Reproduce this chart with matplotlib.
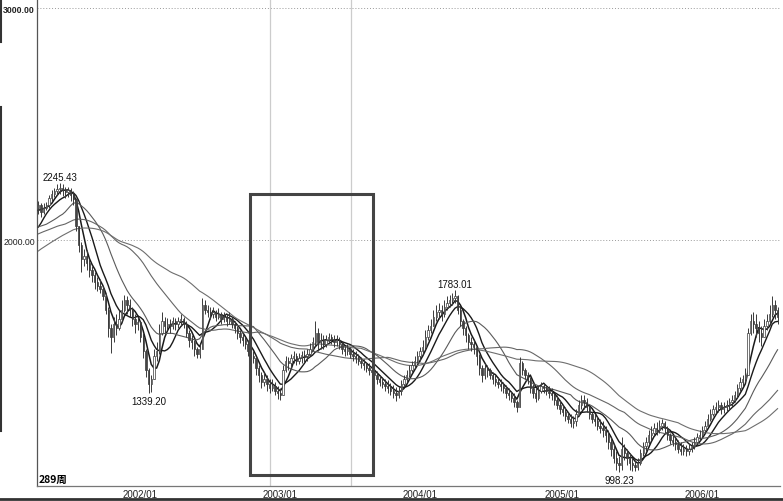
import matplotlib.pyplot as plt
import numpy as np
import pandas as pd
from matplotlib.patches import Rectangle

plt.rcParams['font.family'] = ['Liberation Sans', 'DejaVu Sans']

# weekly closes before the visible window (only used to warm up the moving averages)
pre_close = [1600, 1680, 1720, 1700, 1760, 1800, 1780, 1810, 1800, 1830, 1820, 1840, 1830,
             1850, 1860, 1840, 1880, 1900, 1890, 1910, 1920, 1950, 1980, 2000, 2010, 2020,
             2040, 2080, 2100, 2070, 2000, 1960, 1950, 1940, 1930, 1960, 1970, 1990,
             2020, 2040, 2050, 2060, 2070, 2050, 2060, 2073, 2070, 2060, 2080,
             2000, 1950, 1930, 1960, 2020, 2060, 2100, 2120, 2130, 2140]

# visible weeks, starting 2001-04-13
close = [2150, 2120, 2140, 2150, 2180, 2200, 2210, 2220, 2225, 2215,
         2205, 2215, 2195, 2175, 2060, 1980, 1920, 1930, 1900, 1870,
         1850, 1820, 1800, 1790, 1760, 1700, 1620, 1580, 1640, 1620,
         1660, 1700, 1740, 1720, 1700, 1660, 1640, 1646, 1580, 1520,
         1440, 1380, 1400, 1500, 1520, 1600, 1650, 1630, 1640, 1630,
         1650, 1640, 1650, 1660, 1640, 1600, 1570, 1560, 1530, 1510,
         1530, 1720, 1700, 1690, 1680, 1690, 1670, 1680, 1660, 1670,
         1650, 1660, 1640, 1620, 1600, 1580, 1570, 1550, 1520, 1500,
         1490, 1450, 1420, 1390, 1400, 1380, 1360, 1370, 1350, 1340,
         1330, 1440, 1480, 1470, 1490, 1500, 1480, 1490, 1505, 1500,
         1510, 1530, 1560, 1600, 1560, 1570, 1550, 1570, 1580, 1575,
         1560, 1570, 1550, 1530, 1520, 1530, 1510, 1500, 1490, 1480,
         1470, 1460, 1450, 1440, 1430, 1420, 1400, 1390, 1380, 1370,
         1360, 1350, 1340, 1330, 1350, 1380, 1400, 1420, 1440, 1460,
         1480, 1500, 1520, 1540, 1580, 1610, 1630, 1670, 1690, 1700,
         1680, 1710, 1730, 1740, 1750, 1760, 1700, 1650, 1620, 1590,
         1560, 1550, 1540, 1500, 1450, 1420, 1450, 1440, 1420, 1400,
         1390, 1380, 1370, 1360, 1340, 1330, 1320, 1300, 1280, 1470,
         1440, 1420, 1400, 1360, 1340, 1320, 1350, 1370, 1360, 1350,
         1340, 1330, 1310, 1290, 1270, 1260, 1240, 1230, 1210, 1220,
         1250, 1290, 1310, 1300, 1280, 1250, 1230, 1220, 1200, 1190,
         1180, 1160, 1130, 1100, 1060, 1040, 1030, 1100, 1080, 1060,
         1040, 1030, 1020, 1040, 1080, 1110, 1130, 1160, 1170, 1190,
         1180, 1200, 1210, 1190, 1160, 1140, 1130, 1120, 1100, 1090,
         1100, 1090, 1100, 1110, 1130, 1150, 1160, 1180, 1200, 1230,
         1250, 1270, 1280, 1290, 1270, 1280, 1290, 1300, 1310, 1330,
         1360, 1390, 1400, 1420, 1600, 1650, 1640, 1620, 1600, 1580,
         1630, 1650, 1680, 1720, 1700, 1670]

high = [2170, 2160, 2160, 2165, 2195, 2215, 2225, 2240, 2245.43, 2240,
        2230, 2230, 2225, 2210, 2180, 2060, 1990, 1960, 1955, 1920,
        1890, 1860, 1840, 1830, 1800, 1770, 1710, 1640, 1670, 1680,
        1700, 1740, 1765, 1760, 1745, 1710, 1680, 1670, 1650, 1600,
        1530, 1450, 1420, 1530, 1560, 1640, 1690, 1670, 1665, 1660,
        1670, 1665, 1670, 1680, 1670, 1650, 1610, 1590, 1570, 1540,
        1550, 1748, 1740, 1720, 1710, 1710, 1700, 1705, 1690, 1690,
        1680, 1690, 1670, 1650, 1630, 1610, 1600, 1580, 1570, 1530,
        1520, 1490, 1460, 1430, 1430, 1420, 1400, 1400, 1390, 1370,
        1360, 1460, 1500, 1495, 1510, 1520, 1515, 1515, 1520, 1525,
        1530, 1555, 1580, 1649.6, 1620, 1600, 1590, 1590, 1600, 1595,
        1590, 1590, 1580, 1560, 1545, 1550, 1540, 1530, 1520, 1510,
        1495, 1485, 1475, 1470, 1460, 1445, 1435, 1420, 1410, 1400,
        1395, 1385, 1375, 1365, 1370, 1395, 1420, 1440, 1460, 1480,
        1500, 1520, 1540, 1570, 1610, 1635, 1660, 1700, 1720, 1730,
        1720, 1740, 1760, 1765, 1770, 1783.01, 1765, 1710, 1660, 1630,
        1600, 1580, 1570, 1540, 1510, 1460, 1470, 1460, 1450, 1430,
        1420, 1410, 1400, 1390, 1375, 1360, 1350, 1340, 1310, 1496,
        1480, 1450, 1430, 1410, 1380, 1360, 1370, 1390, 1385, 1375,
        1370, 1360, 1340, 1330, 1310, 1290, 1280, 1260, 1250, 1240,
        1270, 1310, 1330, 1330, 1320, 1290, 1260, 1250, 1240, 1230,
        1220, 1200, 1180, 1150, 1120, 1090, 1070, 1150, 1120, 1100,
        1080, 1060, 1050, 1060, 1100, 1130, 1150, 1180, 1200, 1210,
        1215, 1225, 1230, 1220, 1200, 1170, 1160, 1150, 1140, 1130,
        1120, 1115, 1120, 1130, 1150, 1170, 1180, 1200, 1220, 1250,
        1270, 1290, 1300, 1310, 1300, 1300, 1310, 1320, 1330, 1350,
        1380, 1410, 1420, 1450, 1620, 1680, 1690, 1680, 1650, 1630,
        1660, 1680, 1720, 1757, 1740, 1710]

low = [2110, 2100, 2110, 2130, 2140, 2170, 2185, 2195, 2200, 2190,
       2180, 2185, 2170, 2150, 2040, 1950, 1860, 1890, 1870, 1840,
       1820, 1790, 1780, 1770, 1740, 1680, 1580, 1514, 1560, 1590,
       1610, 1650, 1690, 1680, 1670, 1630, 1600, 1610, 1560, 1490,
       1410, 1339.2, 1345, 1400, 1480, 1510, 1590, 1600, 1610, 1600,
       1615, 1610, 1620, 1630, 1620, 1580, 1540, 1530, 1500, 1490,
       1490, 1530, 1680, 1670, 1660, 1665, 1650, 1660, 1640, 1645,
       1630, 1640, 1620, 1600, 1575, 1555, 1545, 1530, 1500, 1480,
       1470, 1420, 1390, 1360, 1370, 1350, 1340, 1350, 1330, 1315,
       1311.7, 1330, 1430, 1440, 1450, 1470, 1460, 1465, 1470, 1475,
       1480, 1500, 1520, 1545, 1520, 1530, 1530, 1540, 1555, 1550,
       1540, 1545, 1530, 1510, 1500, 1505, 1490, 1480, 1470, 1460,
       1450, 1440, 1430, 1420, 1410, 1390, 1380, 1370, 1360, 1350,
       1340, 1330, 1320, 1307.4, 1320, 1330, 1370, 1390, 1410, 1430,
       1450, 1470, 1480, 1510, 1530, 1570, 1600, 1630, 1650, 1660,
       1650, 1670, 1700, 1710, 1720, 1730, 1680, 1630, 1590, 1560,
       1530, 1520, 1510, 1460, 1420, 1390, 1400, 1410, 1400, 1380,
       1370, 1360, 1350, 1340, 1320, 1310, 1300, 1280, 1259.4, 1280,
       1420, 1400, 1380, 1340, 1320, 1300, 1310, 1340, 1340, 1330,
       1320, 1310, 1290, 1270, 1250, 1240, 1220, 1210, 1195, 1190,
       1200, 1240, 1270, 1270, 1260, 1230, 1210, 1200, 1180, 1170,
       1150, 1130, 1100, 1070, 1040, 1010, 998.23, 1010, 1050, 1030,
       1010, 1005, 1004, 1010, 1030, 1070, 1090, 1120, 1140, 1160,
       1160, 1170, 1180, 1170, 1140, 1120, 1110, 1095, 1080, 1075,
       1075, 1070, 1075, 1085, 1100, 1120, 1140, 1150, 1170, 1200,
       1220, 1240, 1255, 1260, 1250, 1255, 1265, 1270, 1280, 1300,
       1320, 1350, 1370, 1390, 1440, 1590, 1600, 1580, 1560, 1545,
       1580, 1610, 1640, 1670, 1660, 1640]

ma_periods = [5, 10, 20, 40, 60]
ma_colors = ['#1a1a1a', '#1a1a1a', '#5a5a5a', '#666666', '#6e6e6e']
ma_widths = [1.1, 1.0, 0.8, 0.8, 0.8]

# labelled extremes: (week index, 'high' or 'low')
marks = [(8, 'high'), (41, 'low'), (155, 'high'), (216, 'low')]

# vertical cursor lines and the selection box (week index / price)
cursor_weeks = [86.3, 116.4]
box_weeks = (78.9, 124.6)
box_prices = (987, 2198)

c = np.array(close, dtype=float)
o = np.r_[pre_close[-1], c[:-1]]
h = np.maximum(np.array(high, dtype=float), np.maximum(o, c))
l = np.minimum(np.array(low, dtype=float), np.minimum(o, c))
x = np.arange(len(c))
dates = pd.date_range('2001-04-13', periods=len(c), freq='W-FRI')

all_close = pd.Series(pre_close + close, dtype=float)

fig = plt.figure(figsize=(7.83, 5.02), dpi=100)
ax = fig.add_axes([37 / 783, 15 / 502, 743 / 783, 487 / 502])

# moving averages
for n, col, lw in zip(ma_periods, ma_colors, ma_widths):
    ma = all_close.rolling(n).mean().values[len(pre_close):]
    ax.plot(x, ma, color=col, lw=lw, zorder=3)

# candles
ax.vlines(x, l, h, color='#3a3a3a', lw=0.7, zorder=4)
up = c >= o
body_lo = np.minimum(o, c)
body_h = np.maximum(np.abs(c - o), 2)
ax.bar(x[up], body_h[up], bottom=body_lo[up], width=0.5, facecolor='white',
       edgecolor='#3a3a3a', lw=0.5, zorder=5)
ax.bar(x[~up], body_h[~up], bottom=body_lo[~up], width=0.5, facecolor='#444444',
       edgecolor='#3a3a3a', lw=0.5, zorder=5)

# extreme value labels
for i, kind in marks:
    if kind == 'high':
        ax.annotate(f'{h[i]:.2f}', (i, h[i]), xytext=(0, 1), textcoords='offset points',
                    ha='center', va='bottom', fontsize=7, color='#111111')
    else:
        ax.annotate(f'{l[i]:.2f}', (i, l[i]), xytext=(0, -2), textcoords='offset points',
                    ha='center', va='top', fontsize=7, color='#111111')

# gridlines
for v in [2000, 3000]:
    ax.axhline(v, color='#9a9a9a', lw=0.7, ls=(0, (1, 2)), zorder=1)
for w in cursor_weeks:
    ax.axvline(w, color='#cccccc', lw=0.9, zorder=1)

ax.add_patch(Rectangle((box_weeks[0], box_prices[0]), box_weeks[1] - box_weeks[0],
                       box_prices[1] - box_prices[0], fill=False,
                       edgecolor='#444444', lw=2.2, zorder=6))

ax.set_xlim(-0.5, 275.9)
ax.set_ylim(939.7, 3038.8)

ax.set_yticks([2000, 3000])
ax.set_yticklabels(['2000.00', '3000.00'])
ax.get_yticklabels()[1].set_fontweight('bold')
first_jan = [i for i in range(len(dates)) if dates[i].month == 1 and (i == 0 or dates[i - 1].month != 1)]
ax.set_xticks(first_jan)
ax.set_xticklabels([dates[i].strftime('%Y/%m') for i in first_jan])
ax.tick_params(axis='x', length=0, labelsize=7, colors='#222222', pad=2.5)
ax.tick_params(axis='y', length=0, labelsize=6.3, colors='#222222', pad=1.5)

for side in ['top', 'right']:
    ax.spines[side].set_visible(False)
ax.spines['left'].set_color('#555555')
ax.spines['bottom'].set_color('#777777')
ax.spines['left'].set_linewidth(0.9)
ax.spines['bottom'].set_linewidth(0.9)

ax.text(0.002, 0.004, '289周', transform=ax.transAxes, ha='left', va='bottom',
        fontsize=7.5, fontweight='bold', family=['Noto Sans CJK SC', 'DejaVu Sans'])

# window frame: bottom edge and the partly visible left edge
fig.add_artist(plt.Line2D([0, 1], [0.004, 0.004], color='#333333', lw=2))
for y0, y1 in [(0, 43), (108, 432)]:
    fig.add_artist(plt.Line2D([0.001, 0.001], [1 - y0 / 502, 1 - y1 / 502],
                              color='#333333', lw=1.5))

fig.savefig('out.png', dpi=100)
